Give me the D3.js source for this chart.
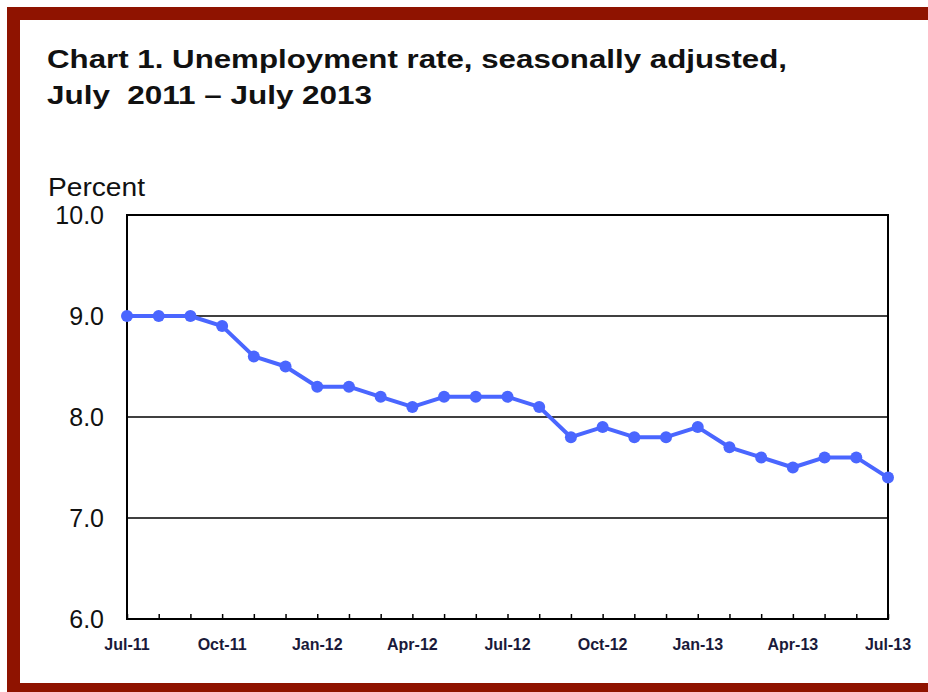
<!DOCTYPE html>
<html>
<head>
<meta charset="utf-8">
<script src="https://cdn.jsdelivr.net/npm/d3@7"></script>
<style>
  html, body { margin: 0; padding: 0; background: #fff; }
  svg { display: block; font-family: "Liberation Sans", Arial, sans-serif; }
</style>
</head>
<body>
<div id="chart"></div>
<script>
const months = [
  "Jul-11", "Aug-11", "Sep-11", "Oct-11", "Nov-11", "Dec-11",
  "Jan-12", "Feb-12", "Mar-12", "Apr-12", "May-12", "Jun-12",
  "Jul-12", "Aug-12", "Sep-12", "Oct-12", "Nov-12", "Dec-12",
  "Jan-13", "Feb-13", "Mar-13", "Apr-13", "May-13", "Jun-13", "Jul-13"
];
const rates = [
  9.0, 9.0, 9.0, 8.9, 8.6, 8.5,
  8.3, 8.3, 8.2, 8.1, 8.2, 8.2,
  8.2, 8.1, 7.8, 7.9, 7.8, 7.8,
  7.9, 7.7, 7.6, 7.5, 7.6, 7.6, 7.4
];
const xLabels = ["Jul-11", "Oct-11", "Jan-12", "Apr-12", "Jul-12", "Oct-12", "Jan-13", "Apr-13", "Jul-13"];
const yTicks = [6, 7, 8, 9, 10];

const W = 928, H = 692;
const margin = { top: 215, right: 40, bottom: 73, left: 127 };
const width = W - margin.left - margin.right;   // 761
const height = H - margin.top - margin.bottom;  // 404

const svg = d3.select("#chart")
  .append("svg")
  .attr("width", W)
  .attr("height", H);

// dark red frame (right edge runs off the picture)
svg.append("rect")
  .attr("x", 13.5)
  .attr("y", 13.5)
  .attr("width", W + 20)
  .attr("height", 676)
  .attr("fill", "none")
  .attr("stroke", "#8f1300")
  .attr("stroke-width", 13);

// title
svg.append("text")
  .attr("x", 47)
  .attr("y", 68)
  .attr("textLength", 740)
  .attr("lengthAdjust", "spacingAndGlyphs")
  .style("font-size", "26px")
  .style("font-weight", "bold")
  .attr("fill", "#111")
  .text("Chart 1. Unemployment rate, seasonally adjusted,");

svg.append("text")
  .attr("x", 47)
  .attr("y", 104)
  .attr("textLength", 325)
  .attr("lengthAdjust", "spacingAndGlyphs")
  .style("font-size", "26px")
  .style("font-weight", "bold")
  .attr("fill", "#111")
  .style("white-space", "pre")
  .text("July  2011 \u2013 July 2013");

const g = svg.append("g")
  .attr("transform", `translate(${margin.left},${margin.top})`);

const x = d3.scalePoint().domain(months).range([0, width]);
const y = d3.scaleLinear().domain([6, 10]).range([height, 0]);

// gridlines
g.append("g")
  .selectAll("line")
  .data(yTicks.filter(d => d > 6 && d < 10))
  .join("line")
  .attr("x1", 0)
  .attr("x2", width)
  .attr("y1", d => y(d))
  .attr("y2", d => y(d))
  .attr("stroke", "#000")
  .attr("stroke-width", 1.6);

// plot frame
g.append("rect")
  .attr("width", width)
  .attr("height", height)
  .attr("fill", "none")
  .attr("stroke", "#000")
  .attr("stroke-width", 2);

// y axis labels
g.append("g")
  .selectAll("text")
  .data(yTicks)
  .join("text")
  .attr("x", -23)
  .attr("y", d => y(d))
  .attr("dy", "0.36em")
  .attr("text-anchor", "end")
  .style("font-size", "25px")
  .attr("fill", "#111")
  .text(d => d.toFixed(1));

g.append("text")
  .attr("x", 48 - margin.left)
  .attr("y", 196 - margin.top)
  .attr("textLength", 97)
  .attr("lengthAdjust", "spacingAndGlyphs")
  .style("font-size", "25px")
  .attr("fill", "#111")
  .text("Percent");

// x axis: ticks every month pointing inward, labels every quarter
const xAxis = g.append("g")
  .attr("transform", `translate(0,${height})`)
  .call(d3.axisTop(x).tickSize(5).tickFormat(""));
xAxis.select(".domain").remove();
xAxis.selectAll("line").attr("stroke", "#000").attr("stroke-width", 1.5);

g.append("g")
  .selectAll("text")
  .data(xLabels)
  .join("text")
  .attr("x", d => x(d))
  .attr("y", height + 31)
  .attr("text-anchor", "middle")
  .style("font-size", "16px")
  .style("font-weight", "bold")
  .attr("fill", "#1a1a3a")
  .text(d => d);

// series
const series = months.map((m, i) => ({ month: m, rate: rates[i] }));

g.append("path")
  .datum(series)
  .attr("fill", "none")
  .attr("stroke", "#4a66ff")
  .attr("stroke-width", 4)
  .attr("stroke-linejoin", "round")
  .attr("d", d3.line().x(d => x(d.month)).y(d => y(d.rate)));

g.append("g")
  .selectAll("circle")
  .data(series)
  .join("circle")
  .attr("cx", d => x(d.month))
  .attr("cy", d => y(d.rate))
  .attr("r", 6)
  .attr("fill", "#4a66ff");
</script>
</body>
</html>
